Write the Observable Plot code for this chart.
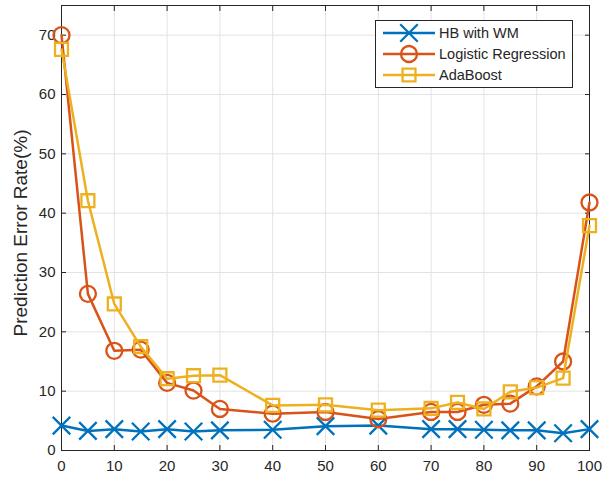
<!DOCTYPE html>
<html><head><meta charset="utf-8">
<script src="https://cdn.jsdelivr.net/npm/d3@7"></script>
<script src="https://cdn.jsdelivr.net/npm/@observablehq/plot@0.6"></script>
<style>
body{margin:0;background:#fff;font-family:"Liberation Sans",Arial,sans-serif;}
#wrap{position:relative;width:616px;height:481px;}
#legend{position:absolute;left:375px;top:20px;width:198px;height:68px;border:1px solid #262626;background:#fff;box-sizing:border-box;}
.item{position:absolute;left:0;height:20px;display:flex;align-items:center;font-size:14.5px;color:#262626;white-space:nowrap;}
.item svg{margin-left:7px;margin-right:4px;}
</style>
</head><body>
<div id="wrap"><div id="legend"></div></div>
<script>
const xs = [0,5,10,15,20,25,30,40,50,60,70,75,80,85,90,95,100];
const hbWM = [4.2,3.3,3.6,3.2,3.6,3.2,3.4,3.5,4.1,4.2,3.6,3.6,3.5,3.4,3.4,2.9,3.6];
const logReg = [70,26.4,16.8,17.0,11.4,10.1,7.0,6.2,6.5,5.3,6.5,6.5,7.7,7.9,10.8,15.0,41.8];
const adaBoost = [67.6,42.1,24.7,17.5,12.1,12.6,12.7,7.6,7.7,6.8,7.1,8.1,7.0,9.9,10.6,12.2,37.9];
const seriesNames = ["HB with WM","Logistic Regression","AdaBoost"];
const seriesColors = ["#0072BD","#D95319","#EDB120"];
const seriesSymbols = ["times","circle","square"];
const seriesR = [8,8,7.3];
const xTicks = [0,10,20,30,40,50,60,70,80,90,100];
const yTicks = [0,10,20,30,40,50,60,70];
const yLabel = "Prediction Error Rate(%)";

const allVals = [hbWM, logReg, adaBoost];
const rows = allVals.map((vals,i)=>xs.map((x,j)=>({x, y: vals[j], s: seriesNames[i]})));

const marks = [
  Plot.gridX(xTicks,{stroke:"#e3e3e3",strokeOpacity:1}),
  Plot.gridY(yTicks,{stroke:"#e3e3e3",strokeOpacity:1}),
  Plot.frame({stroke:"#262626"}),
  Plot.axisX(xTicks,{anchor:"bottom",tickSize:0,tickPadding:10,label:null,fill:"#262626",fontSize:15}),
  Plot.axisY(yTicks,{anchor:"left",tickSize:0,tickPadding:6,label:null,fill:"#262626",fontSize:15}),
  Plot.text([yLabel],{frameAnchor:"left",textAnchor:"middle",lineAnchor:"middle",rotate:-90,dx:-41,dy:5,fontSize:19,fill:"#262626",text:d=>d}),
  Plot.axisX(xTicks,{anchor:"bottom",tickSize:-5,tickFormat:()=>"",label:null,stroke:"#262626"}),
  Plot.axisX(xTicks,{anchor:"top",tickSize:-5,tickFormat:()=>"",label:null,stroke:"#262626"}),
  Plot.axisY(yTicks,{anchor:"left",tickSize:-5,tickFormat:()=>"",label:null,stroke:"#262626"}),
  Plot.axisY(yTicks,{anchor:"right",tickSize:-5,tickFormat:()=>"",label:null,stroke:"#262626"}),
];
rows.forEach((data,i)=>{
  marks.push(Plot.line(data,{x:"x",y:"y",stroke:seriesColors[i],strokeWidth:2.5}));
  marks.push(Plot.dot(data,{x:"x",y:"y",stroke:seriesColors[i],symbol:seriesSymbols[i],r:seriesR[i],strokeWidth:2.3,fill:"none"}));
});

const chart = Plot.plot({
  width:616,height:481,
  marginLeft:61,marginRight:27,marginTop:5,marginBottom:31,
  x:{domain:[0,100]},
  y:{domain:[0,75]},
  style:{fontSize:"15px",fontFamily:"'Liberation Sans',Arial,sans-serif",color:"#262626",background:"#fff"},
  marks
});
document.getElementById("wrap").prepend(chart);

const legend = document.getElementById("legend");
seriesNames.forEach((name,i)=>{
  const item = document.createElement("div");
  item.className="item";
  item.style.top = (2 + i*21) + "px";
  const sw = d3.create("svg").attr("width",52).attr("height",20);
  sw.append("line").attr("x1",0).attr("x2",52).attr("y1",10).attr("y2",10).attr("stroke",seriesColors[i]).attr("stroke-width",2.5);
  const sym = {times:d3.symbolTimes,circle:d3.symbolCircle,square:d3.symbolSquare}[seriesSymbols[i]];
  sw.append("path").attr("d",d3.symbol(sym, Math.PI*seriesR[i]*seriesR[i])()).attr("transform","translate(26,10)")
    .attr("fill","none").attr("stroke",seriesColors[i]).attr("stroke-width",2.3);
  item.appendChild(sw.node());
  const t = document.createElement("span"); t.textContent = name;
  item.appendChild(t);
  legend.appendChild(item);
});
</script>
</body></html>
